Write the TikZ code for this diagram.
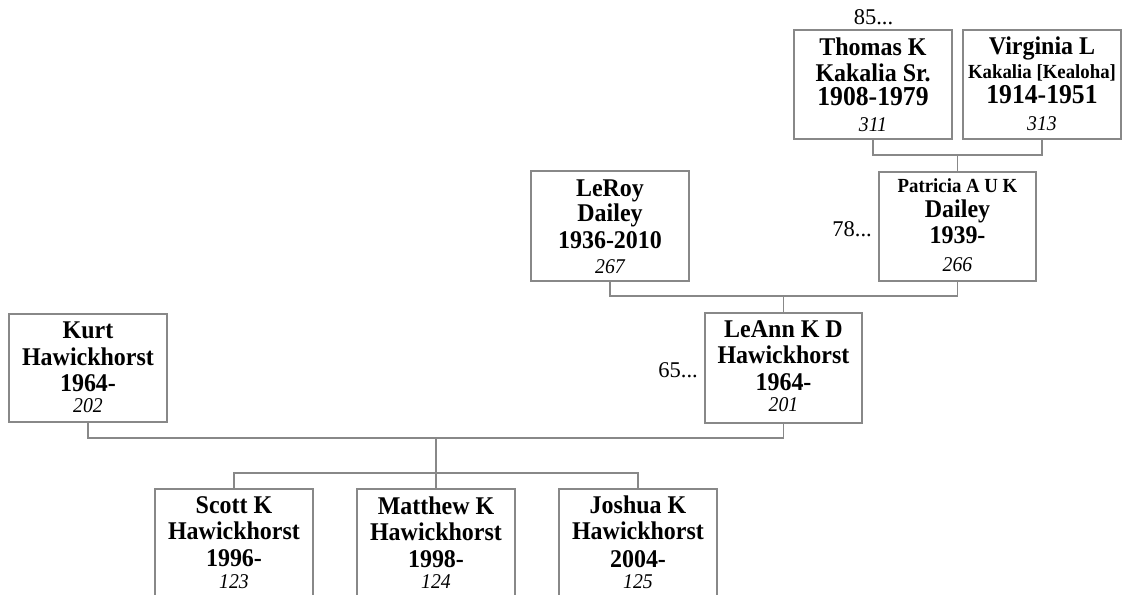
\documentclass[tikz,border=0pt]{standalone}
\usepackage{fontspec}
\setmainfont{Liberation Serif}
\newfontfamily\cf{Liberation Serif}[FakeStretch=0.94]
\begin{document}
\begin{tikzpicture}[x=1pt,y=-1pt,
  pbox/.style={draw=boxgray, line width=1.2pt, inner sep=0pt,
    minimum width=158pt, minimum height=109pt},
  ptext/.style={inner sep=0pt, align=center,
    font=\cf\fontsize{25.5}{26}\selectfont\bfseries},
  conn/.style={draw=boxgray, line width=1.2pt},
  lbl/.style={inner sep=0pt, font=\fontsize{22.5}{26}\selectfont}]
\definecolor{boxgray}{RGB}{136,136,136}
\newcommand{\pnum}[1]{{\fontsize{21}{24}\selectfont\mdseries\itshape #1}}
\newcommand{\psmall}[1]{{\fontsize{20}{22}\selectfont #1}}
\newcommand{\pbig}[1]{{\fontsize{27.3}{28}\selectfont #1}}
\fill[white] (0,0) rectangle (1134,594);
\useasboundingbox (0,0) rectangle (1134,594);

% boxes
\node[pbox] (thomas) at (873,84.5) {};
\node[pbox] (virginia) at (1042,84.5) {};
\node[pbox, minimum height=110pt] (leroy) at (610,226) {};
\node[pbox, minimum width=157pt] (patricia) at (957.5,226.5) {};
\node[pbox, minimum height=108pt] (kurt) at (88,368) {};
\node[pbox, minimum width=157pt, minimum height=110pt] (leann) at (783.5,368) {};
\node[pbox, minimum height=110pt] (scott) at (234,544) {};
\node[pbox, minimum height=110pt] (matthew) at (436,544) {};
\node[pbox, minimum height=110pt] (joshua) at (638,544) {};

% box texts
\node[ptext] (thomasT) at (873,84.4)
  {Thomas K\\Kakalia Sr.\\[-1.5pt]\pbig{1908-1979}\\[-0.5pt]\pnum{311}};
\node[ptext] (virginiaT) at (1042,83.9)
  {Virginia L\\[-2.5pt]\psmall{Kakalia [Kealoha]}\\[-1pt]\pbig{1914-1951}\\[1.5pt]\pnum{313}};
\node[ptext] (leroyT) at (610,226.7)
  {LeRoy\\[-1pt]Dailey\\[1pt]1936-2010\\[-1.3pt]\pnum{267}};
\node[ptext] (patriciaT) at (957.5,225.1)
  {\psmall{Patricia A U K}\\[-1pt]Dailey\\[0.3pt]1939-\\[2.4pt]\pnum{266}};
\node[ptext] (kurtT) at (88,367.1)
  {Kurt\\[0.5pt]Hawickhorst\\[0.5pt]1964-\\[-5.5pt]\pnum{202}};
\node[ptext] (leannT) at (783.5,366)
  {LeAnn K D\\[0.6pt]Hawickhorst\\[0.4pt]1964-\\[-5pt]\pnum{201}};
\node[ptext] (scottT) at (234,542.6)
  {Scott K\\Hawickhorst\\[1.4pt]1996-\\[-4.6pt]\pnum{123}};
\node[ptext] (matthewT) at (436,542.6)
  {Matthew K\\Hawickhorst\\[1.4pt]1998-\\[-4.6pt]\pnum{124}};
\node[ptext] (joshuaT) at (638,542.6)
  {Joshua K\\Hawickhorst\\[1.4pt]2004-\\[-4.6pt]\pnum{125}};

% labels
\node[lbl, anchor=base] (l85) at (873.5,25) {85...};
\node[lbl, anchor=base east] (l78) at (872,236) {78...};
\node[lbl, anchor=base east] (l65) at (698,377) {65...};

% junctions
\coordinate (j1) at (patricia.north |- 0,155);
\coordinate (j2) at (leann.north |- 0,296);
\coordinate (j3) at (matthew.north |- 0,438);
\coordinate (j4) at (matthew.north |- 0,473);

% connectors
\draw[conn] (thomas.south) |- (j1) -| (virginia.south);
\draw[conn] (j1) -- (patricia.north);
\draw[conn] (leroy.south) |- (j2) -| (patricia.south);
\draw[conn] (j2) -- (leann.north);
\draw[conn] (kurt.south) |- (j3) -| (leann.south);
\draw[conn] (j3) -- (j4);
\draw[conn] (scott.north) |- (j4) -| (joshua.north);
\draw[conn] (j4) -- (matthew.north);
\end{tikzpicture}
\end{document}
